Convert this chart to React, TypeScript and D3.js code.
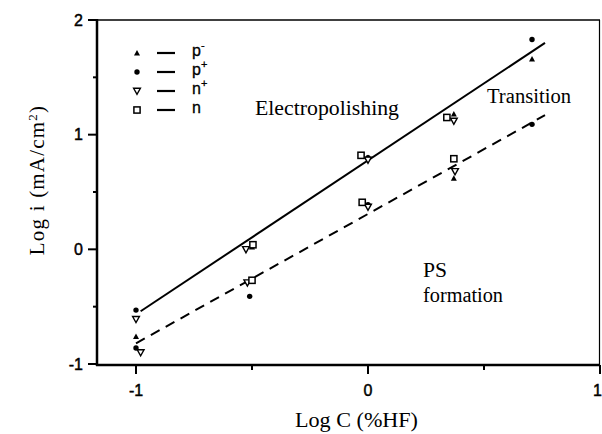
import React from "react";
import * as d3 from "d3";

// log C (%HF) vs log i (mA/cm²) for four doping types; two threshold points per concentration
const pMinusX = [-1.0, -0.5, 0.0, 0.37, 0.37, 0.707];
const pMinusY = [-0.76, 0.02, 0.8, 1.18, 0.62, 1.66];

const pPlusX = [-1.0, -1.0, -0.51, 0.0, 0.0, 0.707, 0.707];
const pPlusY = [-0.53, -0.86, -0.41, 0.8, 0.39, 1.83, 1.09];

const nPlusX = [-1.0, -0.98, -0.526, -0.52, 0.0, 0.0, 0.37, 0.375];
const nPlusY = [-0.61, -0.9, 0.0, -0.29, 0.78, 0.37, 1.12, 0.68];

const nX = [-0.496, -0.5, -0.03, -0.025, 0.34, 0.37];
const nY = [0.04, -0.27, 0.82, 0.41, 1.15, 0.79];

// Linear fits: electropolishing threshold (solid) and PS formation threshold (dashed)
const upperFitX = [-0.98, 0.763];
const upperFitY = [-0.54, 1.8];
const lowerFitX = [-1.0, 0.763];
const lowerFitY = [-0.82, 1.17];

const xTicksMajor = [-1, 0, 1];
const xTicksMinor = [-0.5, 0.5];
const yTicksMajor = [-1, 0, 1, 2];
const yTicksMinor = [-0.5, 0.5, 1.5];

const legendLabels = [
  { base: "p", sup: "-" },
  { base: "p", sup: "+" },
  { base: "n", sup: "+" },
  { base: "n", sup: "" },
];

type MarkerKind = "triUp" | "dot" | "triDown" | "square";
const markerKinds: MarkerKind[] = ["triUp", "dot", "triDown", "square"];

const W = 602;
const H = 434;
const serif = "'Liberation Serif', 'Times New Roman', serif";
const sans = "'Liberation Sans', Arial, Helvetica, sans-serif";

function Marker({ kind, cx, cy }: { kind: MarkerKind; cx: number; cy: number }) {
  if (kind === "dot") {
    return <circle cx={cx} cy={cy} r={2.7} fill="#000" />;
  }
  if (kind === "triUp") {
    const s = 3;
    return (
      <path
        d={`M${cx},${cy - s} L${cx + s},${cy + s * 0.8} L${cx - s},${cy + s * 0.8} Z`}
        fill="#000"
      />
    );
  }
  if (kind === "triDown") {
    const s = 3.4;
    return (
      <path
        d={`M${cx - s},${cy - s * 0.8} L${cx + s},${cy - s * 0.8} L${cx},${cy + s} Z`}
        fill="#fff"
        stroke="#000"
        strokeWidth={1.4}
      />
    );
  }
  return (
    <rect x={cx - 3.1} y={cy - 3.1} width={6.2} height={6.2} fill="#fff" stroke="#000" strokeWidth={1.5} />
  );
}

export default function App() {
  const x = d3.scaleLinear().domain([-1, 1]).range([136, 600]);
  const y = d3.scaleLinear().domain([-1, 2]).range([364, 20]);

  const left = 97;
  const right = 600;
  const top = 20;
  const bottom = 365;

  const line = d3
    .line<[number, number]>()
    .x((d) => x(d[0]))
    .y((d) => y(d[1]));

  const upper = line(upperFitX.map((v, i) => [v, upperFitY[i]] as [number, number])) || "";
  const lower = line(lowerFitX.map((v, i) => [v, lowerFitY[i]] as [number, number])) || "";

  const series: { kind: MarkerKind; xs: number[]; ys: number[] }[] = [
    { kind: "triUp", xs: pMinusX, ys: pMinusY },
    { kind: "dot", xs: pPlusX, ys: pPlusY },
    { kind: "triDown", xs: nPlusX, ys: nPlusY },
    { kind: "square", xs: nX, ys: nY },
  ];

  const legendRows = [53, 72, 91, 110];

  return (
    <svg
      width={W}
      height={H}
      viewBox={`0 0 ${W} ${H}`}
      style={{ position: "absolute", left: 0, top: 0, background: "#fff" }}
    >
      <rect x={0} y={0} width={W} height={H} fill="#fff" />

      {/* frame */}
      <line x1={left} y1={top} x2={right} y2={top} stroke="#000" strokeWidth={1.5} />
      <line x1={right - 0.5} y1={top} x2={right - 0.5} y2={bottom} stroke="#000" strokeWidth={1.2} />
      <line x1={left} y1={top - 1} x2={left} y2={bottom + 1} stroke="#000" strokeWidth={2.5} />
      <line x1={left - 1} y1={bottom} x2={right} y2={bottom} stroke="#000" strokeWidth={2.5} />

      {/* y ticks */}
      {yTicksMajor.map((t) => (
        <g key={`ym${t}`}>
          <line x1={left - 9} x2={left} y1={y(t)} y2={y(t)} stroke="#000" strokeWidth={2} />
          <text
            x={83}
            y={y(t)}
            dy="0.36em"
            textAnchor="end"
            fontFamily={sans}
            fontSize={16}
            stroke="#000"
            strokeWidth={0.45}
          >
            {t}
          </text>
        </g>
      ))}
      {yTicksMinor.map((t) => (
        <line key={`yn${t}`} x1={left - 4} x2={left} y1={y(t)} y2={y(t)} stroke="#000" strokeWidth={2} />
      ))}

      {/* x ticks */}
      {xTicksMajor.map((t) => (
        <g key={`xm${t}`}>
          <line x1={x(t)} x2={x(t)} y1={bottom} y2={bottom + 9} stroke="#000" strokeWidth={2} />
          <text
            x={t === 1 ? W : x(t)}
            y={396}
            textAnchor={t === 1 ? "end" : "middle"}
            fontFamily={sans}
            fontSize={16}
            stroke="#000"
            strokeWidth={0.45}
          >
            {t}
          </text>
        </g>
      ))}
      {xTicksMinor.map((t) => (
        <line key={`xn${t}`} x1={x(t)} x2={x(t)} y1={bottom} y2={bottom + 5} stroke="#000" strokeWidth={2} />
      ))}

      {/* axis titles */}
      <text
        x={295}
        y={427}
        fontFamily={serif}
        fontSize={20}
        textLength={123}
        lengthAdjust="spacingAndGlyphs"
      >
        Log C (%HF)
      </text>
      <text
        transform="translate(44,180) rotate(-90)"
        textAnchor="middle"
        fontFamily={serif}
        fontSize={21}
        letterSpacing={1.2}
      >
        Log i (mA/cm<tspan dy={-7} fontSize={13}>2</tspan>
        <tspan dy={7}>)</tspan>
      </text>

      {/* fitted lines */}
      <path d={upper} fill="none" stroke="#000" strokeWidth={2} />
      <path d={lower} fill="none" stroke="#000" strokeWidth={2} strokeDasharray="10,7" />

      {/* data points */}
      {series.map((s) =>
        s.xs.map((v, i) => (
          <Marker key={`${s.kind}${i}`} kind={s.kind} cx={x(v)} cy={y(s.ys[i])} />
        ))
      )}

      {/* region labels */}
      <text x={255} y={115} fontFamily={serif} fontSize={20} textLength={144} lengthAdjust="spacingAndGlyphs">
        Electropolishing
      </text>
      <text x={487} y={103} fontFamily={serif} fontSize={20} textLength={84} lengthAdjust="spacingAndGlyphs">
        Transition
      </text>
      <text x={423} y={277} fontFamily={serif} fontSize={20} textLength={24} lengthAdjust="spacingAndGlyphs">
        PS
      </text>
      <text x={423} y={302} fontFamily={serif} fontSize={20} textLength={80} lengthAdjust="spacingAndGlyphs">
        formation
      </text>

      {/* legend */}
      {legendLabels.map((l, i) => (
        <g key={`lg${i}`}>
          <Marker kind={markerKinds[i]} cx={137} cy={legendRows[i]} />
          <line x1={157} x2={175} y1={legendRows[i]} y2={legendRows[i]} stroke="#000" strokeWidth={2.2} />
          <text
            x={192}
            y={legendRows[i] + 3}
            fontFamily={sans}
            fontSize={16}
            stroke="#000"
            strokeWidth={0.3}
          >
            {l.base}
            {l.sup && (
              <tspan dy={-7} fontSize={11}>
                {l.sup}
              </tspan>
            )}
          </text>
        </g>
      ))}
    </svg>
  );
}
